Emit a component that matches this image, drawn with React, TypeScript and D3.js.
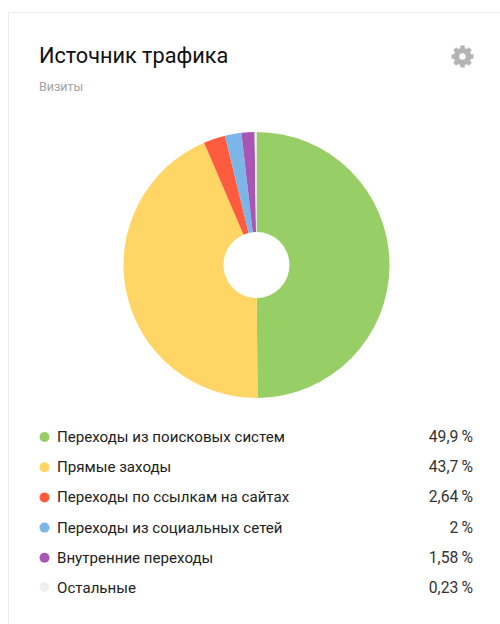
import React from "react";
import * as d3 from "d3";

const categories = ["Переходы из поисковых систем", "Прямые заходы", "Переходы по ссылкам на сайтах", "Переходы из социальных сетей", "Внутренние переходы", "Остальные"];
const values = [49.9, 43.7, 2.64, 2, 1.58, 0.23];
const labels = ["49,9\u2009%", "43,7\u2009%", "2,64\u2009%", "2\u2009%", "1,58\u2009%", "0,23\u2009%"];
const colors = ["#98ce66", "#ffd666", "#ff5c3f", "#7ab7e8", "#a855b5", "#f0f0ee"];
const title = "Источник трафика";
const subtitle = "Визиты";
const gearTeeth = [0, 45, 90, 135, 180, 225, 270, 315];

const FONT = "Roboto, 'Noto Sans', 'Liberation Sans', sans-serif";

export default function App() {
  const pie = d3.pie<number>().sort(null)(values);
  const arc = d3.arc<d3.PieArcDatum<number>>().innerRadius(33).outerRadius(133);
  const rowY = d3.scalePoint<number>().domain(d3.range(categories.length)).range([437, 588]);
  return (
    <svg width={500} height={624} style={{ position: "fixed", left: 0, top: 0, background: "#fff" }}>
      <path d="M500 12.5H8.5V624" fill="none" stroke="#ececec" strokeWidth={1} />
      <text x={39} y={63} fontFamily={FONT} fontSize={21.7} fill="#111">{title}</text>
      <text x={39} y={91} fontFamily={FONT} fontSize={12.5} fill="#a3a3a3">{subtitle}</text>
      <g transform="translate(462.5,56.5)" fill="#b4b4b4">
        <circle r={6} fill="none" stroke="#b4b4b4" strokeWidth={5.6} />
        {gearTeeth.map(a => (
          <rect key={a} x={-2.2} y={-11} width={4.4} height={4} transform={`rotate(${a})`} />
        ))}
      </g>
      <g transform="translate(256.5,265)">
        {pie.map((d, i) => (
          <path key={i} d={arc(d) ?? ""} fill={colors[i]} />
        ))}
      </g>
      {categories.map((c, i) => {
        const y = rowY(i)!;
        return (
          <g key={c}>
            <circle cx={44.5} cy={y + (i === 5 ? -1 : 0)} r={5} fill={colors[i]} />
            <text x={57} y={y + 5} fontFamily={FONT} fontSize={15.1} fill="#222">{c}</text>
            <text x={473} y={y + 5} textAnchor="end" fontFamily={FONT} fontSize={15.7} fill="#333">{labels[i]}</text>
          </g>
        );
      })}
    </svg>
  );
}
